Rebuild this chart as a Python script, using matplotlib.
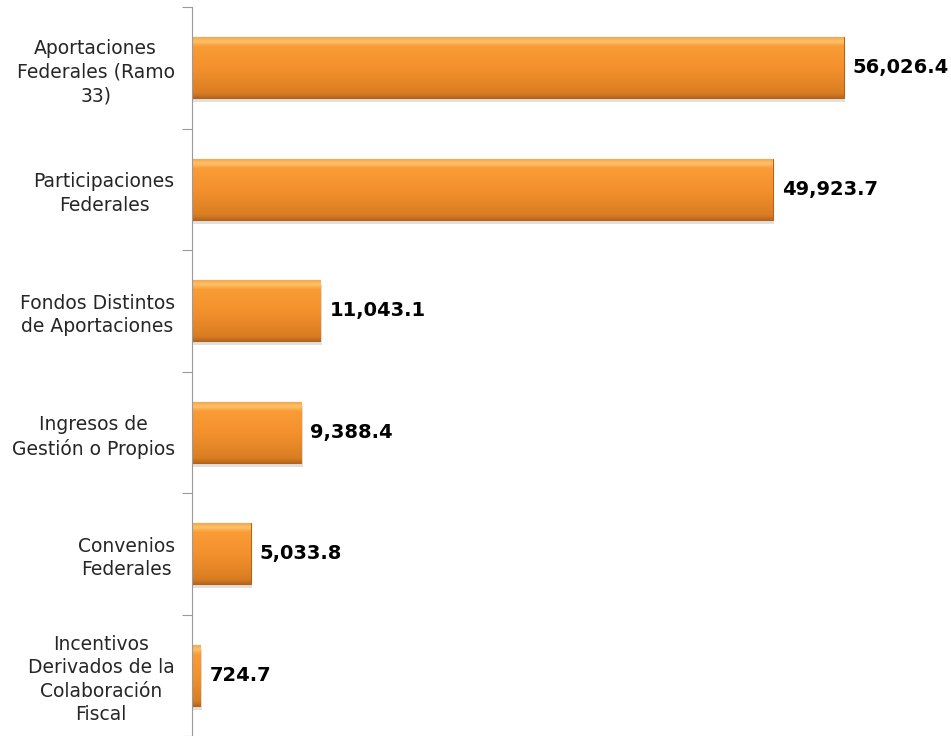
import matplotlib.pyplot as plt
import numpy as np
from matplotlib.colors import LinearSegmentedColormap
from matplotlib.ticker import FixedLocator

plt.rcParams["font.family"] = ["DejaVu Sans"]

categories = [
    "Aportaciones\nFederales (Ramo\n33)",
    "Participaciones\nFederales",
    "Fondos Distintos\nde Aportaciones",
    "Ingresos de\nGestión o Propios",
    "Convenios\nFederales",
    "Incentivos\nDerivados de la\nColaboración\nFiscal",
]
values = [56026.4, 49923.7, 11043.1, 9388.4, 5033.8, 724.7]
value_labels = ["56,026.4", "49,923.7", "11,043.1", "9,388.4", "5,033.8", "724.7"]

# orange bar shading, top highlight down to darker base
bar_cmap = LinearSegmentedColormap.from_list(
    "bar_shade",
    [(0.0, "#b8661c"), (0.08, "#d97d22"), (0.45, "#f28f2c"),
     (0.85, "#fa9c36"), (0.93, "#fdc26a"), (1.0, "#f6a648")],
)

fig = plt.figure(figsize=(9.51, 7.36), dpi=100)
ax = fig.add_axes([192 / 951, 0.0, 698 / 951, 1 - 7 / 736])

y = np.arange(len(categories))
bars = ax.barh(y, values, height=0.5, color="#f7962f", edgecolor="#b0621e",
               linewidth=0.8, zorder=2)

ax.set_xlim(0, 60000)
ax.set_ylim(len(categories) - 0.5, -0.5)

grad = np.linspace(0, 1, 256).reshape(-1, 1)
for rect in bars:
    x0, y0 = rect.get_x(), rect.get_y()
    w, h = rect.get_width(), rect.get_height()
    # soft drop shadow under each bar
    ax.barh(y0 + h / 2 + 0.035, w, height=h, left=x0 + 120,
            color="#000000", alpha=0.12, linewidth=0, zorder=1)
    im = ax.imshow(grad, cmap=bar_cmap, aspect="auto",
                   extent=(x0, x0 + w, y0 + h, y0), origin="lower",
                   zorder=2.5, interpolation="bicubic")
    im.set_clip_path(rect)

for yi, v, lab in zip(y, values, value_labels):
    ax.annotate(lab, (v, yi), xytext=(6.5, 0), textcoords="offset points",
                va="center", ha="left", fontsize=14, fontweight="bold",
                color="black", annotation_clip=False)

ax.set_yticks(y)
ax.set_yticklabels(categories, fontsize=13.5, color="#262626",
                   multialignment="center", linespacing=1.3)
ax.tick_params(axis="y", which="major", length=0, pad=12.5)
ax.yaxis.set_minor_locator(FixedLocator(np.arange(-0.5, len(categories), 1)))
ax.tick_params(axis="y", which="minor", length=7, width=0.8, color="#9a9a9a",
               direction="out")
ax.set_xticks([])

for side in ["top", "right", "bottom"]:
    ax.spines[side].set_visible(False)
ax.spines["left"].set_color("#9a9a9a")
ax.spines["left"].set_linewidth(0.8)

fig.savefig("out.png", dpi=100)
